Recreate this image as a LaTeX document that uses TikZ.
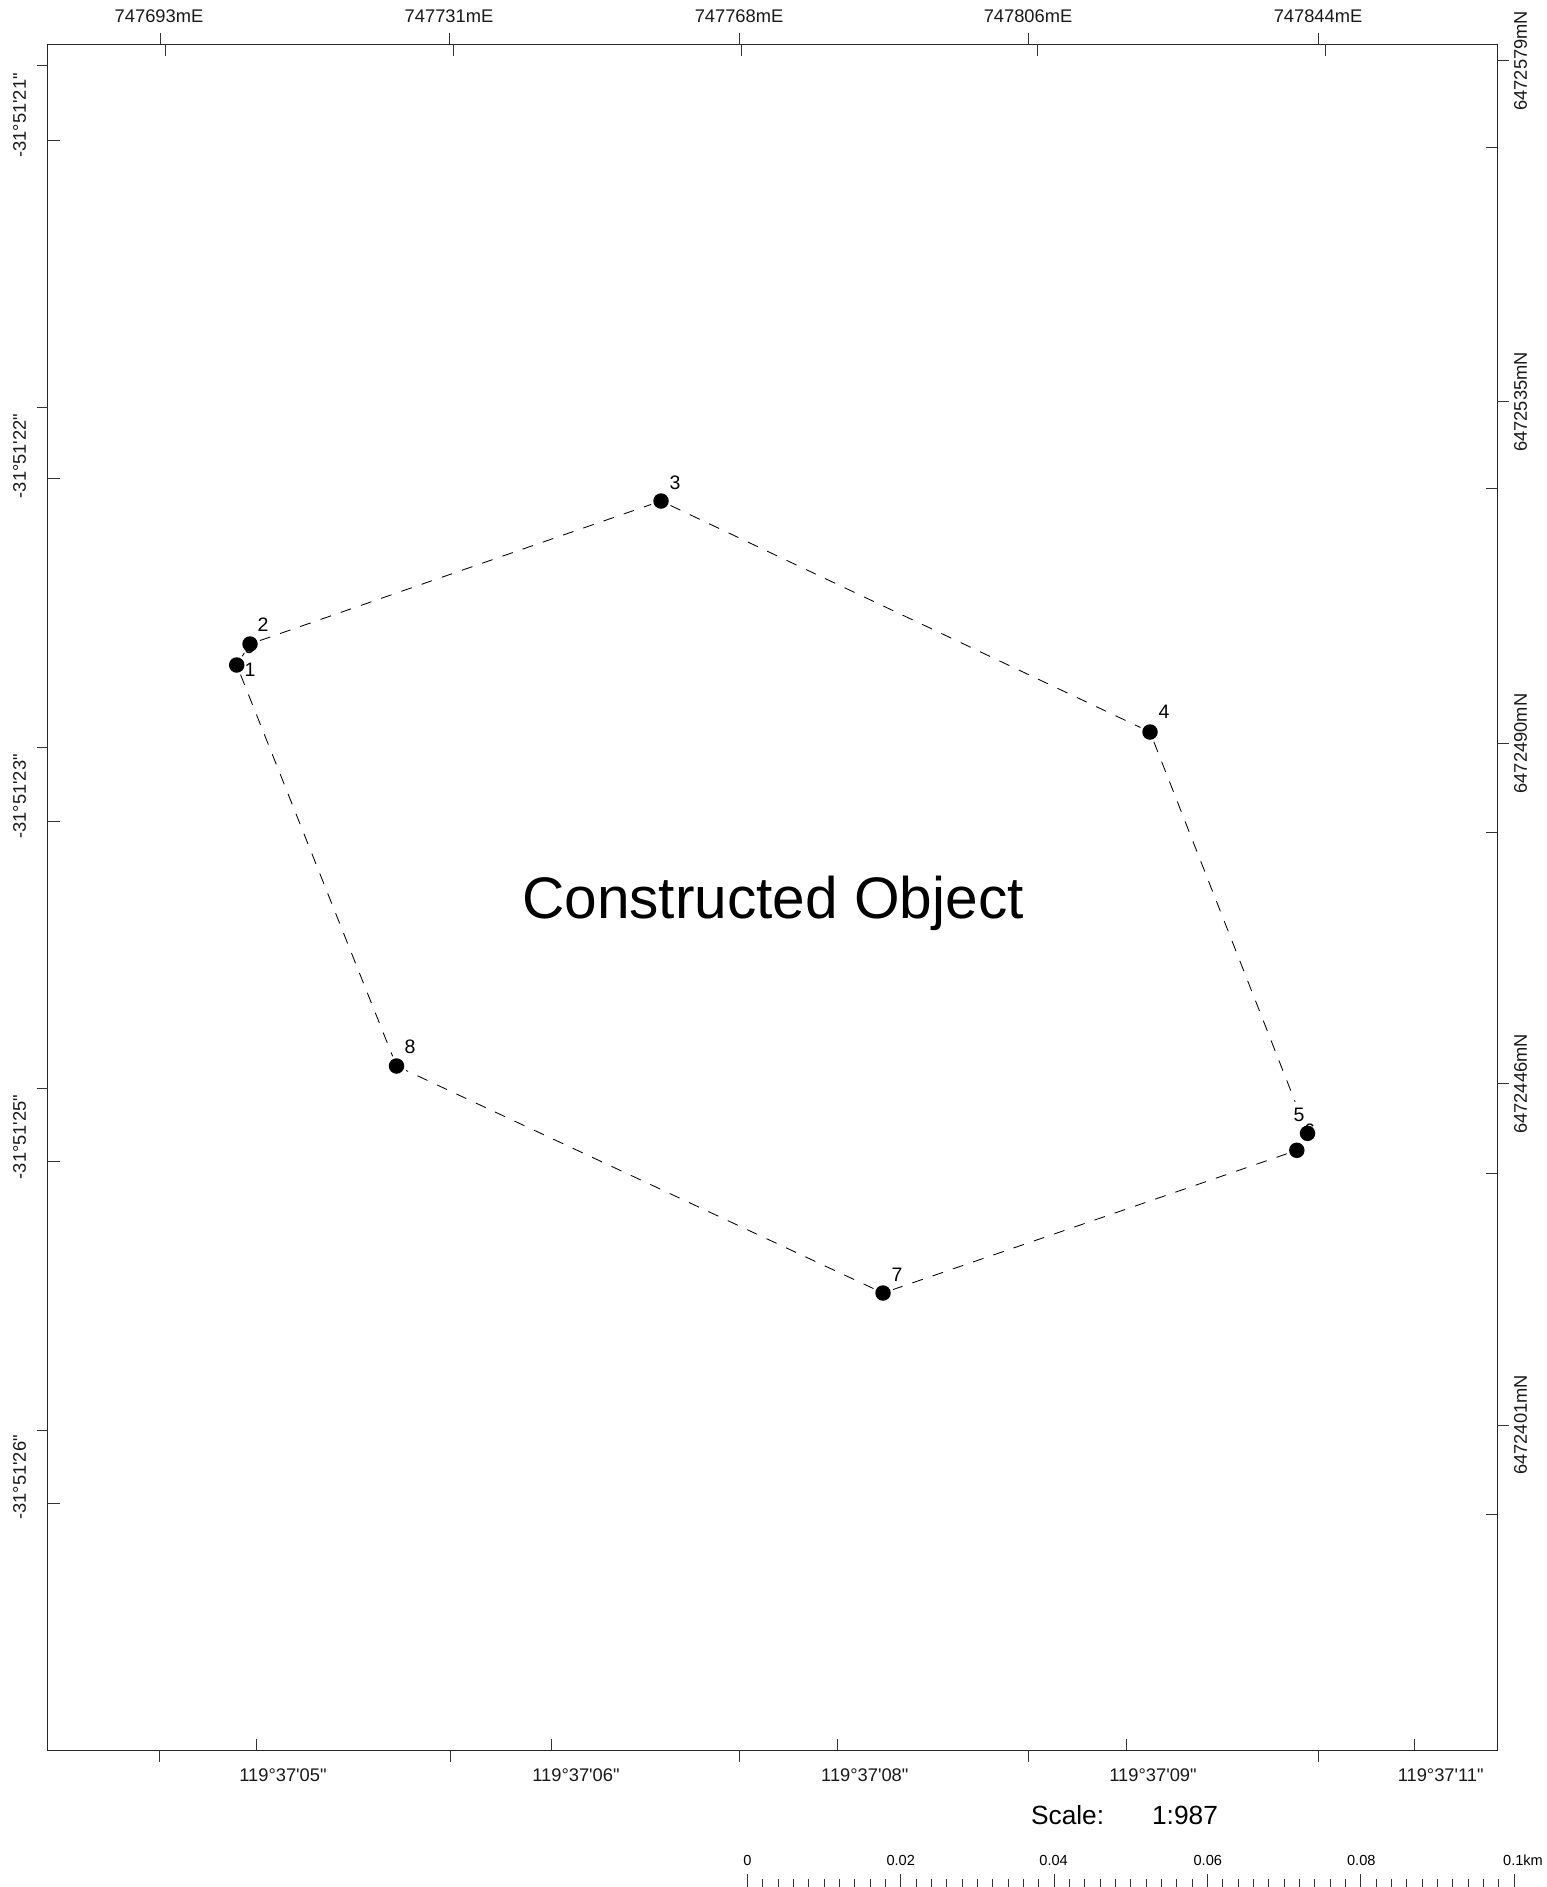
\documentclass[tikz,border=0pt]{standalone}
\usepackage{fontspec}
\setmainfont[Ligatures=TeXOff]{Liberation Sans}
\tikzset{
  x=1pt,y=-1pt,
  frame/.style={draw=black!85,line width=1.2pt},
  tick/.style={draw=black!80,line width=0.95pt},
  lab/.style={inner sep=0pt,font=\fontsize{18.3}{20}\selectfont,text=black!90},
  dotlab/.style={inner sep=0pt,font=\fontsize{19.5}{20}\selectfont},
  dot/.style={circle,fill=black,inner sep=0pt,minimum size=15.5pt},
  seg/.style={draw=black,line width=0.85pt,dash pattern=on 11pt off 10.4pt,shorten >=2.5pt,shorten <=2.5pt},
  scalelab/.style={inner sep=0pt,font=\fontsize{14.6}{16}\selectfont},
}
\begin{document}
\begin{tikzpicture}
\useasboundingbox (0,0) rectangle (1547,1887);
\fill[white] (0,0) rectangle (1547,1887);
\draw[frame] (47.8,44.4) rectangle (1497.3,1750.2);
% top ticks
\foreach \x in {160,449.5,739,1028.7,1318.3} \draw[tick] (\x,33) -- (\x,44.4);
\foreach \x in {165,453.3,741.5,1037,1325.4} \draw[tick] (\x,44.4) -- (\x,56);
% bottom ticks
\foreach \x in {159.3,450,739,1028.5,1318.6} \draw[tick] (\x,1750.2) -- (\x,1762);
\foreach \x in {256.3,551,837.8,1126.3,1414.7} \draw[tick] (\x,1738.5) -- (\x,1750.2);
% left ticks
\foreach \y in {65.7,407,747.5,1088.5,1430} \draw[tick] (36.5,\y) -- (47.8,\y);
\foreach \y in {140.3,478,821,1161.5,1503} \draw[tick] (47.8,\y) -- (59.5,\y);
% right ticks
\foreach \y in {60.7,401.5,743,1083,1425} \draw[tick] (1497.3,\y) -- (1508.6,\y);
\foreach \y in {147.7,488.7,832,1173.2,1514} \draw[tick] (1485.5,\y) -- (1497.3,\y);
% top labels
\foreach \x/\t in {159/747693mE,449/747731mE,739/747768mE,1028/747806mE,1318/747844mE}
  \node[lab] at (\x,16) {\t};
% bottom labels
\foreach \x/\t in {283/05,576/06,864.8/08,1153/09,1440.7/11}
  \node[lab] at (\x,1775) {119°37'\t"};
% left labels
\foreach \y/\t in {115.5/21,456/22,796.5/23,1137/25,1477.5/26}
  \node[lab,rotate=90] at (19.5,\y) {-31°51'\t"};
% right labels
\foreach \y/\t in {60.8/6472579,402/6472535,743.5/6472490,1084/6472446,1425/6472401}
  \node[lab,rotate=90] at (1520.5,\y) {\t mN};
% hidden labels beneath dots
\node[dotlab] (l9) at (249.5,647) {9};
\node[dotlab] (l6) at (1309.5,1131) {6};
% points
\node[dot] (p1) at (236.7,665) {};
\node[dot] (p2) at (250,644) {};
\node[dot] (p3) at (661,501) {};
\node[dot] (p4) at (1150,732) {};
\node[dot] (p5) at (1296.8,1150.3) {};
\node[dot] (p6) at (1307.5,1133.3) {};
\node[dot] (p7) at (883,1293) {};
\node[dot] (p8) at (396.5,1066) {};
% segments
\draw[seg] (p1) -- (p2);
\draw[seg] (p2) -- (p3);
\draw[seg] (p3) -- (p4);
\draw[seg,shorten >=26pt] (p4) -- (p6);
\draw[seg] (p5) -- (p7);
\draw[seg] (p7) -- (p8);
\draw[seg] (p1) -- (p8);
% point labels
\node[dotlab] (l1) at (250,670) {1};
\node[dotlab] (l2) at (263,625) {2};
\node[dotlab] (l3) at (675,483) {3};
\node[dotlab] (l4) at (1164,712) {4};
\node[dotlab] (l5) at (1299,1115) {5};
\node[dotlab] (l7) at (897,1275) {7};
\node[dotlab] (l8) at (410,1047) {8};
% title
\node[inner sep=0pt,font=\fontsize{58.6}{60}\selectfont] (title) at (773,903) {Constructed Object};
% scale
\node[inner sep=0pt,font=\fontsize{26.3}{28}\selectfont] (sc) at (1067.6,1815) {Scale:};
\node[inner sep=0pt,font=\fontsize{26.3}{28}\selectfont] (sv) at (1185,1815) {1:987};
% scale bar
\foreach \i in {0,...,50}{
  \pgfmathsetmacro{\xx}{747.5+\i*15.33}
  \pgfmathtruncatemacro{\mm}{mod(\i,10)}
  \ifnum\mm=0
    \draw[tick] (\xx,1874) -- (\xx,1887);
  \else
    \draw[tick] (\xx,1878.5) -- (\xx,1887);
  \fi
}
\foreach \x/\t in {747.5/0,900.7/0.02,1053.6/0.04,1207.8/0.06,1361.3/0.08,1523/0.1km}
  \node[scalelab] at (\x,1860.5) {\t};
\end{tikzpicture}
\end{document}
